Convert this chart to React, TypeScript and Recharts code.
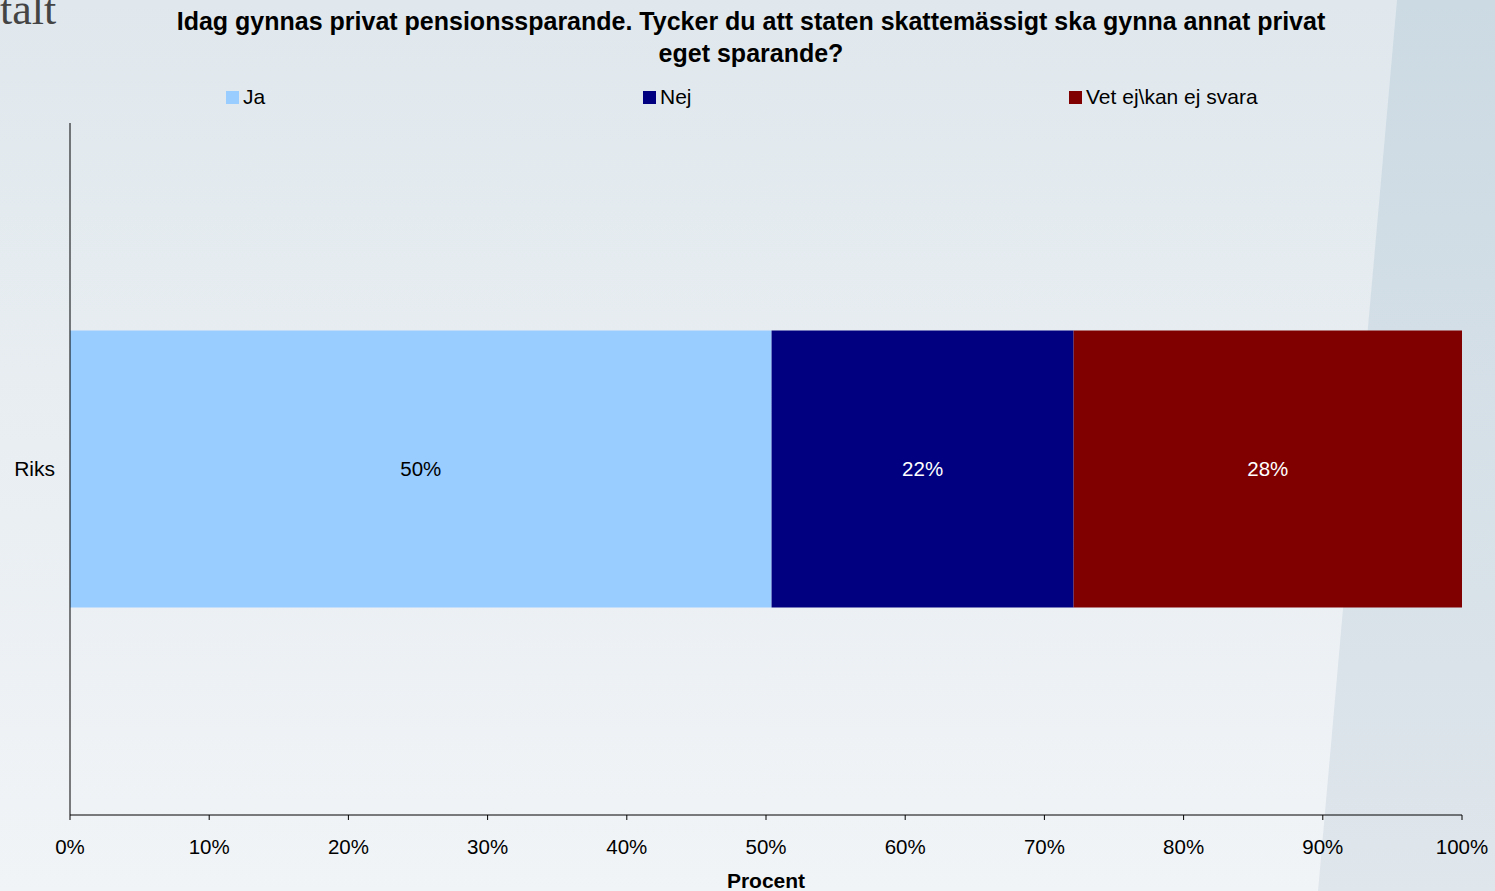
import { BarChart, Bar, XAxis, YAxis, LabelList } from "recharts";

const categories = ["Riks"];
const ja = [50.4];
const nej = [21.7];
const vetEj = [27.9];
const xTicks = [0, 10, 20, 30, 40, 50, 60, 70, 80, 90, 100];

const seriesKeys = ["ja", "nej", "vetEj"];
const seriesNames = ["Ja", "Nej", "Vet ej\\kan ej svara"];
const seriesColors = ["#99ccff", "#000080", "#800000"];
const labelColors = ["#000000", "#ffffff", "#ffffff"];

const data = categories.map((name, i) => ({ name, ja: ja[i], nej: nej[i], vetEj: vetEj[i] }));

const font = "'Liberation Sans', Arial, sans-serif";

function ChartLegend() {
  const lefts = [226, 643, 1069];
  return (
    <div style={{ position: "absolute", left: 0, top: 85, width: 1495, height: 24, fontFamily: font, fontSize: 21 }}>
      {seriesNames.map((n, i) => (
        <div key={n} style={{ position: "absolute", left: lefts[i], top: 0, display: "flex", alignItems: "center", whiteSpace: "nowrap" }}>
          <span style={{ display: "inline-block", width: 13, height: 13, background: seriesColors[i], marginRight: 4 }} />
          <span style={{ color: "#000" }}>{n}</span>
        </div>
      ))}
    </div>
  );
}

export default function App() {
  return (
    <div style={{ position: "absolute", left: 0, top: 0, width: 1495, height: 891, overflow: "hidden", fontFamily: font }}>
      <svg width={1495} height={891} style={{ position: "absolute", left: 0, top: 0 }}>
        <defs>
          <linearGradient id="bgMain" x1="0" y1="0" x2="0" y2="1">
            <stop offset="0%" stopColor="#e0e8ed" />
            <stop offset="100%" stopColor="#f1f4f7" />
          </linearGradient>
          <linearGradient id="bgRight" x1="0" y1="0" x2="0" y2="1">
            <stop offset="0%" stopColor="#ccdae3" />
            <stop offset="100%" stopColor="#dfe6ec" />
          </linearGradient>
        </defs>
        <rect x={0} y={0} width={1495} height={891} fill="url(#bgMain)" />
        <polygon points="1397,0 1495,0 1495,891 1318,891" fill="url(#bgRight)" />
      </svg>
      <div style={{ position: "absolute", left: 0, top: -16, fontFamily: "'Liberation Serif', serif", fontSize: 44, color: "#444" }}>
        talt
      </div>
      <div
        style={{
          position: "absolute",
          left: 0,
          top: 5,
          width: 1502,
          textAlign: "center",
          fontWeight: "bold",
          fontSize: 25,
          lineHeight: "32px",
          color: "#000",
        }}
      >
        Idag gynnas privat pensionssparande. Tycker du att staten skattemässigt ska gynna annat privat
        <br />
        eget sparande?
      </div>
      <ChartLegend />
      <div style={{ position: "absolute", left: 0, top: 0 }}>
        <BarChart
          width={1495}
          height={891}
          data={data}
          layout="vertical"
          margin={{ top: 123, right: 33, bottom: 0, left: 0 }}
          barCategoryGap="30%"
        >
          <XAxis
            type="number"
            domain={[0, 100]}
            ticks={xTicks}
            tickFormatter={(v: number) => `${v}%`}
            height={76}
            tick={{ fill: "#000", fontSize: 20.5 }}
            tickSize={5}
            tickMargin={19}
            axisLine={{ stroke: "#000" }}
            tickLine={{ stroke: "#000" }}
            label={{ value: "Procent", position: "insideBottom", offset: 3, fill: "#000", fontSize: 21, fontWeight: "bold" }}
          />
          <YAxis
            type="category"
            dataKey="name"
            width={70}
            tick={{ fill: "#000", fontSize: 21 }}
            tickLine={false}
            tickSize={5}
            tickMargin={10}
            axisLine={{ stroke: "#000" }}
          />
          {seriesKeys.map((k, i) => (
            <Bar key={k} dataKey={k} name={seriesNames[i]} stackId="a" fill={seriesColors[i]} isAnimationActive={false}>
              <LabelList
                dataKey={k}
                position="center"
                formatter={(v: any) => `${Math.round(Number(v))}%`}
                fill={labelColors[i]}
                fontSize={20.5}
              />
            </Bar>
          ))}
        </BarChart>
      </div>
    </div>
  );
}
